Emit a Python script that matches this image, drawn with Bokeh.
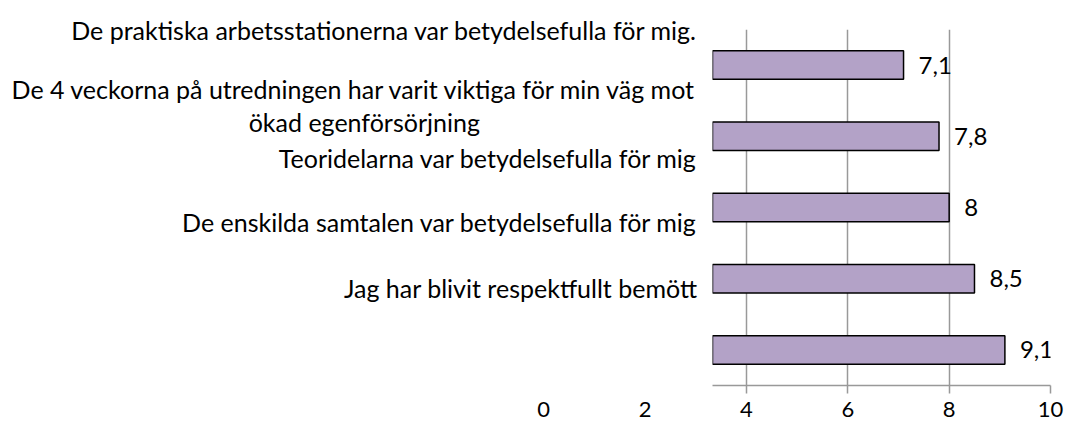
from bokeh.plotting import figure
from bokeh.layouts import row
from bokeh.models import ColumnDataSource, LabelSet, FixedTicker, Range1d
from bokeh.core.properties import value
from bokeh.embed import file_html
from bokeh.resources import INLINE

# ---- data (top to bottom) ----
categories = [
    "De praktiska arbetsstationerna var betydelsefulla för mig.",
    "De 4 veckorna på utredningen har varit viktiga för min väg mot\nökad egenförsörjning",
    "Teoridelarna var betydelsefulla för mig",
    "De enskilda samtalen var betydelsefulla för mig",
    "Jag har blivit respektfullt bemött",
]
values = [7.1, 7.8, 8.0, 8.5, 9.1]
bar_pos = [4, 3, 2, 1, 0]
category_label_pos = [4.5, 3.43, 2.70, 1.80, 0.87]
x_ticks = [0, 2, 4, 6, 8, 10]

FONT = "Lato"
X_START, X_END = 3.33, 10          # visible part of the value axis
Y_START, Y_END = -0.5, 4.5
H = 427
TOP, BOTTOM = 29, 42
LEFT_W, PLOT_W, RIGHT_PAD = 712, 338, 16
FRAME_H = H - TOP - BOTTOM
PX_PER_Y = FRAME_H / (Y_END - Y_START)
PX_PER_X = PLOT_W / (X_END - X_START)
TICK_OUT = 8
STANDOFF = 8
TICK_FONT = "22px"

def fmt(v):
    return ("%g" % v).replace(".", ",")

def center_lines(label):
    # Excel centres the lines of a wrapped category label; pad the shorter line
    lines = label.split("\n")
    if len(lines) == 1:
        return label
    return lines[0] + "\n" + lines[1] + "\u00a0" * 34

def style_xaxis(fig, ticks, show_line):
    ax = fig.xaxis[0]
    ax.ticker = FixedTicker(ticks=ticks)
    ax.axis_line_color = "#999999" if show_line else None
    ax.axis_line_width = 1.5
    ax.major_tick_line_color = "#999999" if show_line else None
    ax.major_tick_line_width = 1.5
    ax.major_tick_out = TICK_OUT
    ax.major_tick_in = 0
    ax.minor_tick_line_color = None
    ax.major_label_standoff = STANDOFF
    ax.major_label_text_font = FONT
    ax.major_label_text_font_size = TICK_FONT
    ax.major_label_text_color = "black"

# ---- main plot area (bars) ----
p = figure(width=PLOT_W + RIGHT_PAD, height=H, output_backend="svg", toolbar_location=None,
           x_range=Range1d(X_START, X_END), y_range=Range1d(Y_START, Y_END),
           min_border_left=0, min_border_right=RIGHT_PAD, min_border_top=TOP,
           min_border_bottom=BOTTOM, frame_align=False)
p.title.visible = False
p.outline_line_color = None
p.yaxis.visible = False
p.ygrid.grid_line_color = None

src = ColumnDataSource(dict(y=bar_pos, v=values, t=[fmt(v) for v in values]))
p.hbar(y="y", left=0, right="v", height=0.4, source=src,
       fill_color="#b3a2c7", line_color="black", line_width=1.5)

p.add_layout(LabelSet(x="v", y="y", text="t", source=src, x_offset=15,
                      text_baseline="middle", text_align="left",
                      text_font=value(FONT), text_font_size="24px", text_color="black"))

style_xaxis(p, [t for t in x_ticks if t >= X_START], True)
p.xgrid.ticker = FixedTicker(ticks=x_ticks)
p.xgrid.grid_line_color = "#999999"
p.xgrid.grid_line_width = 1.5

# ---- left part: category labels and the value-axis ticks left of the plot area ----
q = figure(width=LEFT_W, height=H, output_backend="svg", toolbar_location=None,
           x_range=Range1d(X_START - LEFT_W / PX_PER_X, X_START),
           y_range=Range1d(Y_START, Y_END + TOP / PX_PER_Y),
           min_border_left=0, min_border_right=0, min_border_top=0,
           min_border_bottom=BOTTOM, frame_align=False)
q.title.visible = False
q.outline_line_color = None
q.yaxis.visible = False
q.xgrid.grid_line_color = None
q.ygrid.grid_line_color = None
style_xaxis(q, [t for t in x_ticks if t < X_START], False)

csrc = ColumnDataSource(dict(x=[X_START] * len(categories), y=category_label_pos,
                             t=[center_lines(c) for c in categories]))
q.text(x="x", y="y", text="t", source=csrc, x_offset=-15, text_align="right",
       text_baseline="middle", text_font=value(FONT), text_font_size="25px",
       text_line_height=1.1, text_color="black")

layout = row(q, p, spacing=0)
open("out.html", "w").write(file_html(layout, INLINE))
